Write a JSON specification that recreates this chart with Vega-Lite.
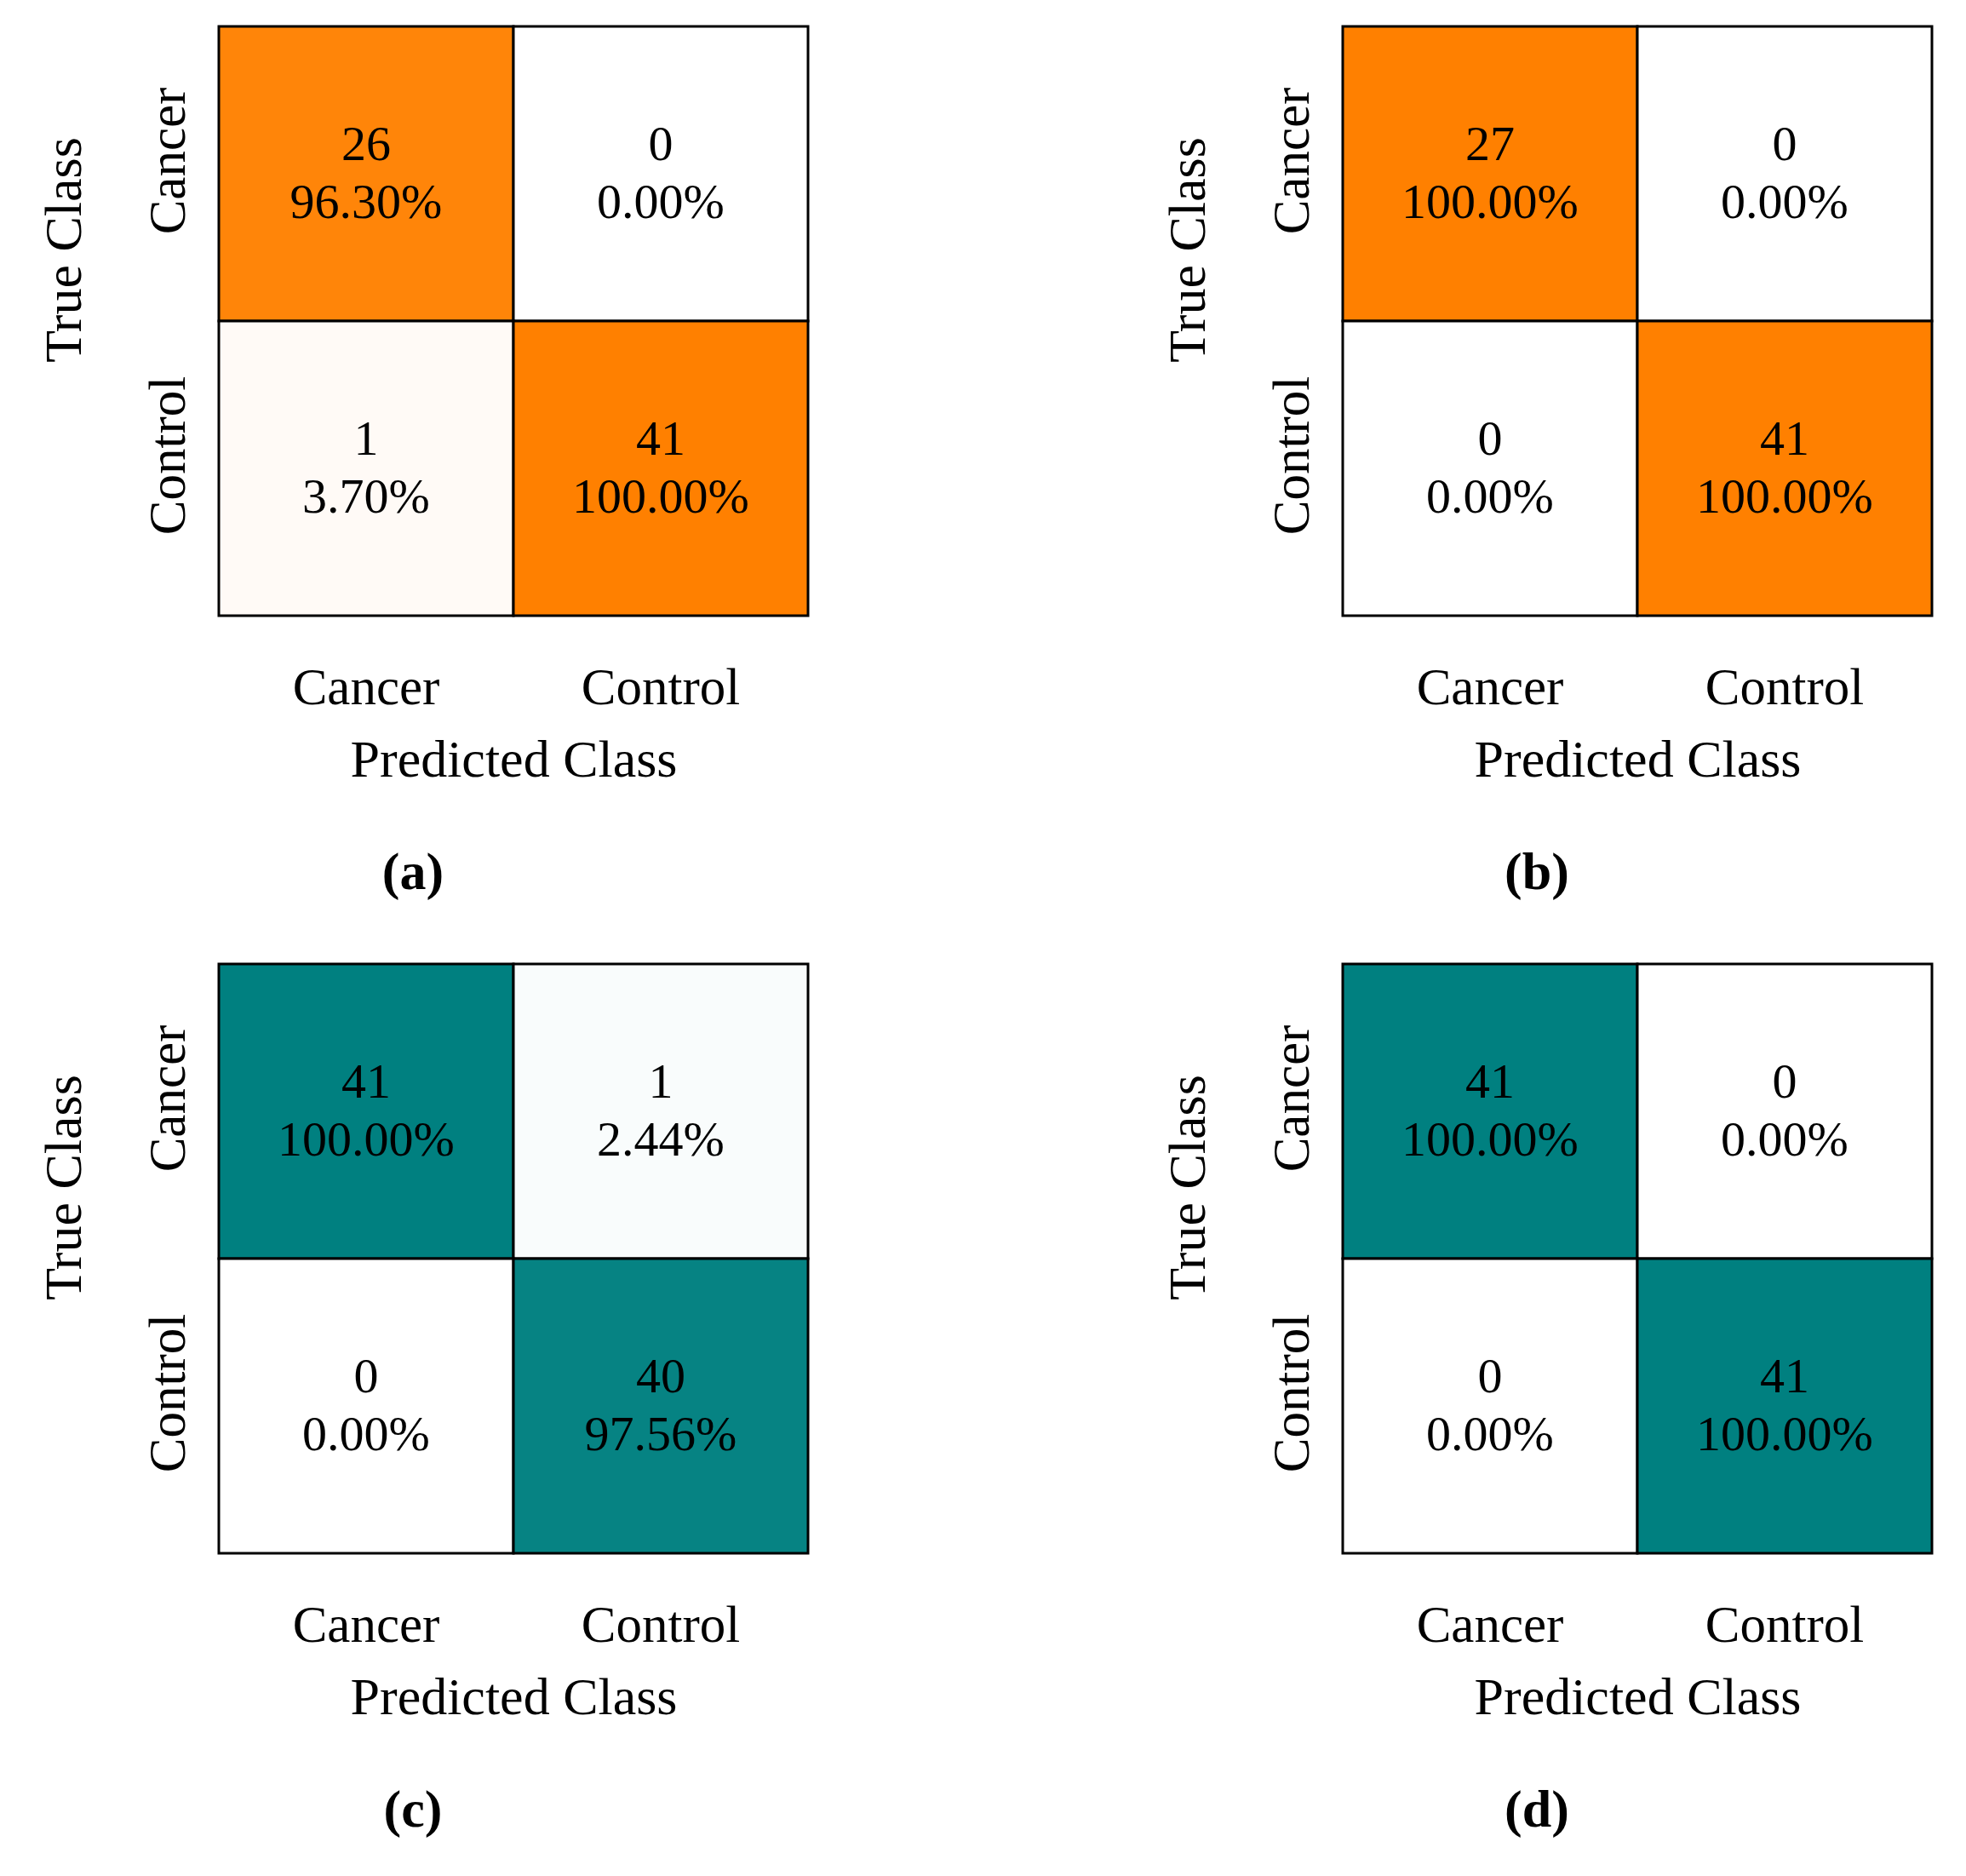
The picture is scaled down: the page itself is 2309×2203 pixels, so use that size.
{
  "$schema": "https://vega.github.io/schema/vega-lite/v6.json",
  "background": "white",
  "padding": {"left": 44, "top": 29, "right": 5, "bottom": 5},
  "datasets": {
    "a": [
      {"true": "Cancer", "pred": "Cancer", "count": 26, "rate": 0.963},
      {"true": "Cancer", "pred": "Control", "count": 0, "rate": 0},
      {"true": "Control", "pred": "Cancer", "count": 1, "rate": 0.037},
      {"true": "Control", "pred": "Control", "count": 41, "rate": 1.0}
    ],
    "b": [
      {"true": "Cancer", "pred": "Cancer", "count": 27, "rate": 1.0},
      {"true": "Cancer", "pred": "Control", "count": 0, "rate": 0},
      {"true": "Control", "pred": "Cancer", "count": 0, "rate": 0},
      {"true": "Control", "pred": "Control", "count": 41, "rate": 1.0}
    ],
    "c": [
      {"true": "Cancer", "pred": "Cancer", "count": 41, "rate": 1.0},
      {"true": "Cancer", "pred": "Control", "count": 1, "rate": 0.0244},
      {"true": "Control", "pred": "Cancer", "count": 0, "rate": 0},
      {"true": "Control", "pred": "Control", "count": 40, "rate": 0.9756}
    ],
    "d": [
      {"true": "Cancer", "pred": "Cancer", "count": 41, "rate": 1.0},
      {"true": "Cancer", "pred": "Control", "count": 0, "rate": 0},
      {"true": "Control", "pred": "Cancer", "count": 0, "rate": 0},
      {"true": "Control", "pred": "Control", "count": 41, "rate": 1.0}
    ]
  },
  "columns": 2,
  "spacing": {"column": 413, "row": 74},
  "resolve": {"scale": {"color": "independent"}},
  "concat": [
    {
      "data": {"name": "a"},
      "width": 692, "height": 692,
      "title": {"text": "(a)"},
      "encoding": {
        "x": {"field": "pred", "type": "nominal", "sort": ["Cancer", "Control"], "title": "Predicted Class"},
        "y": {"field": "true", "type": "nominal", "sort": ["Cancer", "Control"], "title": "True Class"}
      },
      "layer": [
        {"mark": {"type": "rect", "stroke": "black", "strokeWidth": 3},
         "encoding": {"color": {"field": "rate", "type": "quantitative", "legend": null,
           "scale": {"domain": [0, 1], "range": ["#ffffff", "#ff8000"], "interpolate": "rgb"}}}},
        {"mark": {"type": "text", "dy": -33}, "encoding": {"text": {"field": "count", "type": "quantitative"}}},
        {"mark": {"type": "text", "dy": 35}, "encoding": {"text": {"field": "rate", "type": "quantitative", "format": ".2%"}}}
      ]
    },
    {
      "data": {"name": "b"},
      "width": 692, "height": 692,
      "title": {"text": "(b)"},
      "encoding": {
        "x": {"field": "pred", "type": "nominal", "sort": ["Cancer", "Control"], "title": "Predicted Class"},
        "y": {"field": "true", "type": "nominal", "sort": ["Cancer", "Control"], "title": "True Class"}
      },
      "layer": [
        {"mark": {"type": "rect", "stroke": "black", "strokeWidth": 3},
         "encoding": {"color": {"field": "rate", "type": "quantitative", "legend": null,
           "scale": {"domain": [0, 1], "range": ["#ffffff", "#ff8000"], "interpolate": "rgb"}}}},
        {"mark": {"type": "text", "dy": -33}, "encoding": {"text": {"field": "count", "type": "quantitative"}}},
        {"mark": {"type": "text", "dy": 35}, "encoding": {"text": {"field": "rate", "type": "quantitative", "format": ".2%"}}}
      ]
    },
    {
      "data": {"name": "c"},
      "width": 692, "height": 692,
      "title": {"text": "(c)"},
      "encoding": {
        "x": {"field": "pred", "type": "nominal", "sort": ["Cancer", "Control"], "title": "Predicted Class"},
        "y": {"field": "true", "type": "nominal", "sort": ["Cancer", "Control"], "title": "True Class"}
      },
      "layer": [
        {"mark": {"type": "rect", "stroke": "black", "strokeWidth": 3},
         "encoding": {"color": {"field": "rate", "type": "quantitative", "legend": null,
           "scale": {"domain": [0, 1], "range": ["#ffffff", "#008080"], "interpolate": "rgb"}}}},
        {"mark": {"type": "text", "dy": -33}, "encoding": {"text": {"field": "count", "type": "quantitative"}}},
        {"mark": {"type": "text", "dy": 35}, "encoding": {"text": {"field": "rate", "type": "quantitative", "format": ".2%"}}}
      ]
    },
    {
      "data": {"name": "d"},
      "width": 692, "height": 692,
      "title": {"text": "(d)"},
      "encoding": {
        "x": {"field": "pred", "type": "nominal", "sort": ["Cancer", "Control"], "title": "Predicted Class"},
        "y": {"field": "true", "type": "nominal", "sort": ["Cancer", "Control"], "title": "True Class"}
      },
      "layer": [
        {"mark": {"type": "rect", "stroke": "black", "strokeWidth": 3},
         "encoding": {"color": {"field": "rate", "type": "quantitative", "legend": null,
           "scale": {"domain": [0, 1], "range": ["#ffffff", "#008080"], "interpolate": "rgb"}}}},
        {"mark": {"type": "text", "dy": -33}, "encoding": {"text": {"field": "count", "type": "quantitative"}}},
        {"mark": {"type": "text", "dy": 35}, "encoding": {"text": {"field": "rate", "type": "quantitative", "format": ".2%"}}}
      ]
    }
  ],
  "config": {
    "font": "Liberation Serif",
    "view": {"stroke": null},
    "scale": {"bandPaddingInner": 0, "bandPaddingOuter": 0},
    "text": {"font": "Liberation Serif", "fontSize": 58, "color": "black", "baseline": "middle", "align": "center"},
    "axis": {
      "domain": false, "ticks": false, "tickSize": 0, "grid": false, "labelLimit": 0,
      "labelFont": "Liberation Serif", "labelFontSize": 61, "labelColor": "black",
      "titleFont": "Liberation Serif", "titleFontSize": 62, "titleColor": "black", "titleFontWeight": "normal"
    },
    "axisX": {"labelAngle": 0, "labelPadding": 55, "titlePadding": 24},
    "axisY": {"labelAngle": -90, "labelAlign": "center", "labelBaseline": "alphabetic", "labelPadding": 41, "labelOffset": -15, "titlePadding": 60, "titleY": 262},
    "title": {"orient": "bottom", "font": "Liberation Serif", "fontSize": 62, "fontWeight": "bold", "color": "black", "offset": 72, "anchor": "middle", "dx": -118}
  }
}
